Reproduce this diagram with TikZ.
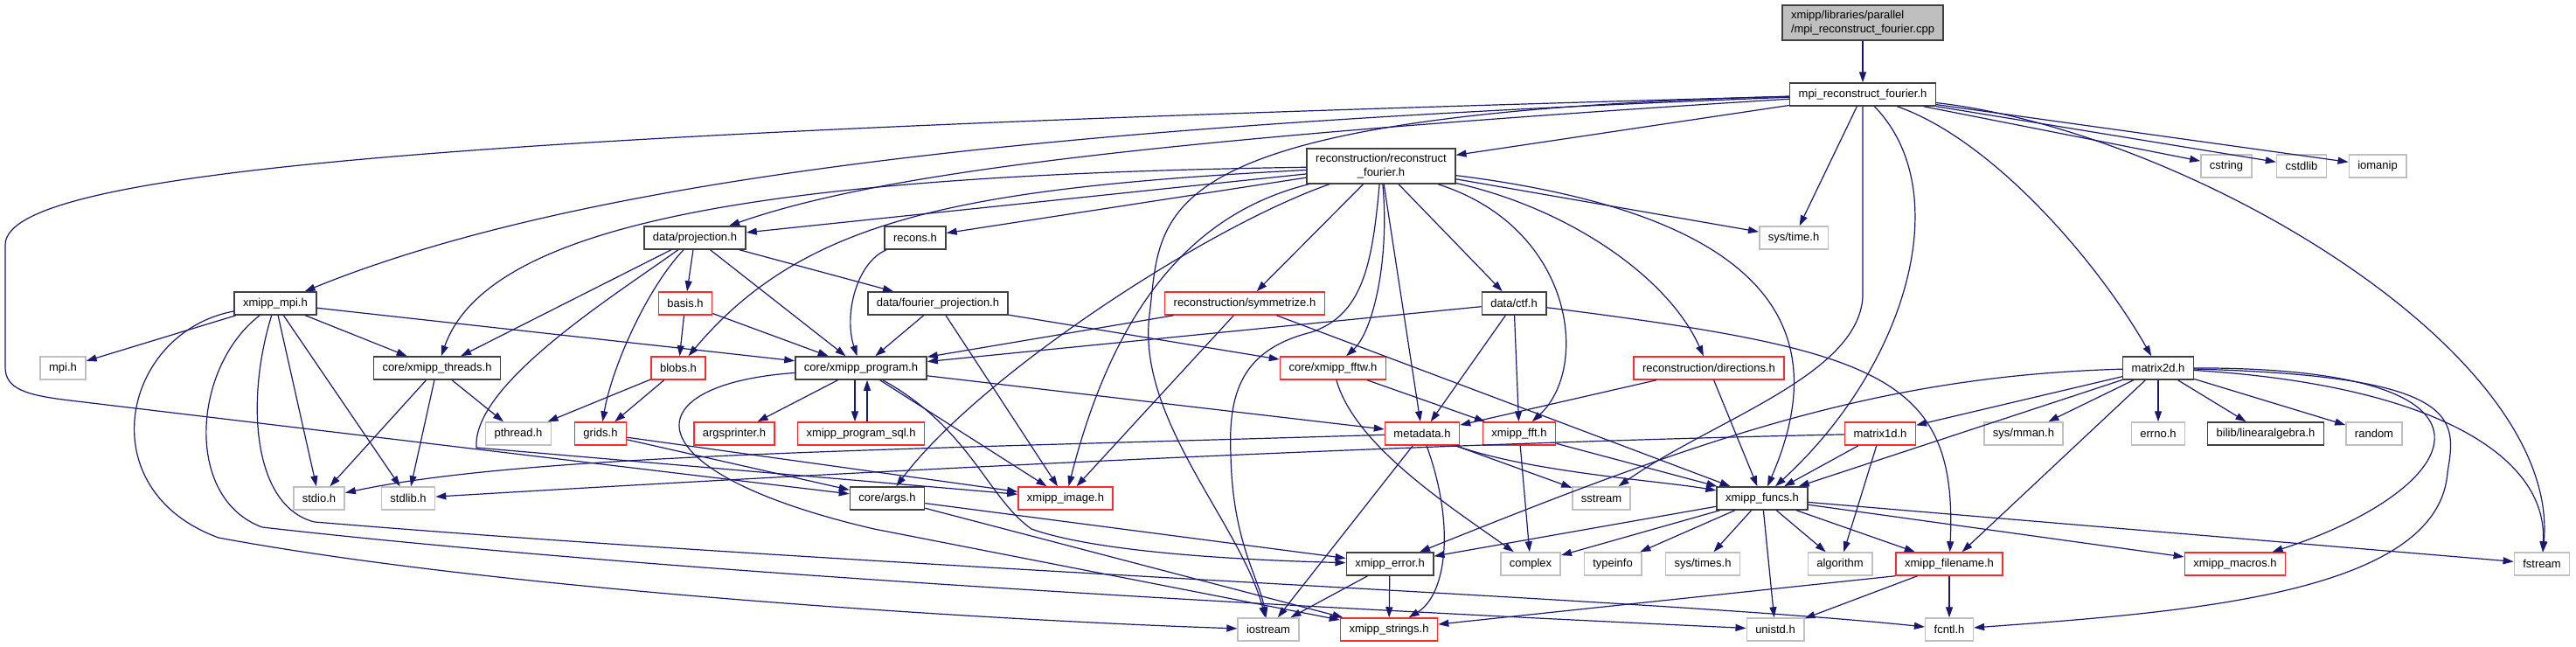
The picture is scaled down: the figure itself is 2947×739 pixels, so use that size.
\documentclass[tikz,border=0pt]{standalone}
\usepackage{fontspec}
\setmainfont{Liberation Sans}
\usetikzlibrary{arrows.meta}
\definecolor{edgeblue}{HTML}{191970}
\definecolor{boxred}{HTML}{FF2A2A}
\definecolor{boxgray}{HTML}{BFBFBF}
\definecolor{boxblack}{HTML}{404040}
\definecolor{rootfill}{HTML}{BFBFBF}

\begin{document}
\begin{tikzpicture}[x=1pt, y=-1pt,
  font=\fontsize{13}{15.5}\selectfont,
  hdr/.style={rectangle, draw, line width=1.5pt, inner xsep=10pt, inner ysep=3pt, minimum height=26pt},
  docbox/.style={hdr, draw=boxblack},
  redbox/.style={hdr, draw=boxred},
  sysbox/.style={hdr, draw=boxgray},
  inc/.style={draw=edgeblue, line width=1.2pt, -{Triangle[length=12pt,width=8pt]}}]
  \useasboundingbox (0,0) rectangle (2947,739);

  \node[hdr, draw=boxblack, fill=rootfill, align=left, minimum height=40pt] (root) at (2131,26) {xmipp/libraries/parallel\\/mpi\_reconstruct\_fourier.cpp};
  \node[docbox] (mrf) at (2131,108) {mpi\_reconstruct\_fourier.h};
  \node[sysbox] (cstring) at (2547,190) {cstring};
  \node[sysbox] (cstdlib) at (2633,190) {cstdlib};
  \node[sysbox] (iomanip) at (2720,190) {iomanip};
  \node[docbox, align=center, minimum height=40pt] (rf) at (1580,190) {reconstruction/reconstruct\\\_fourier.h};
  \node[sysbox] (systime) at (2052,272) {sys/time.h};
  \node[docbox] (recons) at (1047,272) {recons.h};
  \node[docbox] (proj) at (795,272) {data/projection.h};
  \node[docbox] (xmpi) at (315,347) {xmipp\_mpi.h};
  \node[redbox] (basis) at (784,347) {basis.h};
  \node[docbox] (fproj) at (1073,347) {data/fourier\_projection.h};
  \node[redbox] (symm) at (1424,347) {reconstruction/symmetrize.h};
  \node[docbox] (ctf) at (1732,347) {data/ctf.h};
  \node[sysbox] (mpi) at (72,421) {mpi.h};
  \node[docbox] (threads) at (500,421) {core/xmipp\_threads.h};
  \node[redbox] (blobs) at (776,421) {blobs.h};
  \node[docbox] (prog) at (985,421) {core/xmipp\_program.h};
  \node[redbox] (fftw) at (1525,421) {core/xmipp\_fftw.h};
  \node[redbox] (dirs) at (1955,421) {reconstruction/directions.h};
  \node[docbox] (mtwo) at (2469,421) {matrix2d.h};
  \node[sysbox] (pthread) at (593,496) {pthread.h};
  \node[redbox] (grids) at (687,496) {grids.h};
  \node[redbox] (argsp) at (840,496) {argsprinter.h};
  \node[redbox] (sql) at (985,496) {xmipp\_program\_sql.h};
  \node[redbox] (meta) at (1627,496) {metadata.h};
  \node[redbox] (fft) at (1738,496) {xmipp\_fft.h};
  \node[redbox] (mone) at (2151,496) {matrix1d.h};
  \node[sysbox] (mman) at (2315,496) {sys/mman.h};
  \node[sysbox] (errno) at (2469,496) {errno.h};
  \node[docbox] (bilib) at (2592,496) {bilib/linearalgebra.h};
  \node[sysbox] (random) at (2716,496) {random};
  \node[sysbox] (stdio) at (365,570) {stdio.h};
  \node[sysbox] (stdlib) at (467,570) {stdlib.h};
  \node[docbox] (args) at (1015,570) {core/args.h};
  \node[redbox] (image) at (1219,570) {xmipp\_image.h};
  \node[sysbox] (sstream) at (1832,570) {sstream};
  \node[docbox] (funcs) at (2016,570) {xmipp\_funcs.h};
  \node[docbox] (error) at (1590,645) {xmipp\_error.h};
  \node[sysbox] (complex) at (1751,645) {complex};
  \node[sysbox] (typeinfo) at (1845,645) {typeinfo};
  \node[sysbox] (systimes) at (1948,645) {sys/times.h};
  \node[sysbox] (algorithm) at (2105,645) {algorithm};
  \node[redbox] (fname) at (2230,645) {xmipp\_filename.h};
  \node[redbox] (macros) at (2557,645) {xmipp\_macros.h};
  \node[sysbox] (fstream) at (2908,645) {fstream};
  \node[sysbox] (iostream) at (1451,720) {iostream};
  \node[redbox] (strings) at (1589,720) {xmipp\_strings.h};
  \node[sysbox] (unistd) at (2031,720) {unistd.h};
  \node[sysbox] (fcntl) at (2230,720) {fcntl.h};

  % straight includes
  \foreach \a/\b in {root/mrf, mrf/rf, mrf/systime, mrf/cstring, mrf/cstdlib, mrf/iomanip,
    rf/proj, rf/recons, rf/symm, rf/meta, rf/ctf, rf/systime,
    proj/basis, proj/prog, proj/fproj, proj/threads,
    basis/blobs, basis/prog, blobs/pthread, blobs/grids, grids/args, grids/image,
    fproj/prog, fproj/image, fproj/fftw, symm/prog, symm/funcs, symm/image,
    ctf/prog, ctf/meta, ctf/fft, xmpi/mpi, xmpi/threads, xmpi/prog, xmpi/stdio, xmpi/stdlib,
    threads/stdio, threads/stdlib, threads/pthread, prog/argsp, prog/meta, prog/image,
    meta/iostream, meta/sstream, fft/complex, fft/funcs, fftw/fft, dirs/meta, dirs/funcs,
    mone/funcs, mone/algorithm, mtwo/mone, mtwo/mman, mtwo/errno, mtwo/bilib, mtwo/random,
    mtwo/fname, mtwo/funcs, args/error, args/strings, error/iostream, error/strings,
    funcs/error, funcs/complex, funcs/typeinfo, funcs/systimes, funcs/algorithm,
    funcs/fname, funcs/macros, funcs/fstream, funcs/unistd, fname/unistd, fname/fcntl}
    \draw[inc] (\a) -- (\b);

  \draw[inc] ([xshift=-7pt]prog.south) -- ([xshift=-7pt]sql.north);
  \draw[inc] ([xshift=7pt]sql.north) -- ([xshift=7pt]prog.south);
  \draw[inc] (fname.south west) -- (strings);

  % curved includes
  \draw[inc] (mrf) .. controls (1300,140) and (700,190) .. (xmpi);
  \draw[inc] (mrf) .. controls (1300,160) and (1000,200) .. (proj);
  \draw[inc] (mrf) .. controls (600,150) and (6,190) .. (6,280) -- (6,420) .. controls (6,445) and (30,452) .. (80,458) -- (args);
  \draw[inc] (mrf) .. controls (1300,130) and (1330,240) .. (1315,360) .. controls (1300,480) and (1420,600) .. (iostream);
  \draw[inc] (mrf) .. controls (2500,150) and (2930,400) .. (fstream);
  \draw[inc] (mrf) .. controls (2280,160) and (2400,300) .. (mtwo);
  \draw[inc] (mrf) .. controls (2240,220) and (2180,420) .. (funcs);
  \draw[inc] (mrf.south) -- (2131,340) .. controls (2125,430) and (1960,480) .. (sstream);

  \draw[inc] (rf) .. controls (900,200) and (560,250) .. (threads);
  \draw[inc] (rf) .. controls (1100,215) and (920,250) .. (blobs);
  \draw[inc] (rf) .. controls (1380,260) and (1120,430) .. (args);
  \draw[inc] (rf) .. controls (1380,240) and (1280,330) .. (image);
  \draw[inc] (rf) .. controls (1570,300) and (1560,360) .. (1500,380) .. controls (1420,400) and (1405,450) .. (1408,520) .. controls (1410,620) and (1440,660) .. (iostream);
  \draw[inc] (rf) .. controls (1590,300) and (1570,380) .. (fftw);
  \draw[inc] (rf) .. controls (1800,260) and (1820,420) .. (fft);
  \draw[inc] (rf) .. controls (1800,240) and (1910,320) .. (dirs);
  \draw[inc] (rf) .. controls (2060,250) and (2090,400) .. (funcs);

  \draw[inc] (proj) .. controls (740,330) and (700,420) .. (grids);
  \draw[inc] (proj) .. controls (700,340) and (540,440) .. (545,512) -- (image);
  \draw[inc] (recons) .. controls (980,300) and (965,360) .. (prog);
  \draw[inc] (ctf) .. controls (2150,400) and (2240,430) .. (fname);
  \draw[inc] (prog) .. controls (720,440) and (720,540) .. (1000,605) -- (strings);
  \draw[inc] (prog) .. controls (1110,490) and (1130,570) .. (1180,605) .. controls (1250,630) and (1400,640) .. (error);
  \draw[inc] (meta) .. controls (1000,515) and (600,520) .. (stdio);
  \draw[inc] (meta) .. controls (1665,600) and (1655,680) .. (strings);
  \draw[inc] (meta) .. controls (1750,540) and (1900,550) .. (funcs);
  \draw[inc] (fftw) .. controls (1550,510) and (1660,580) .. (complex);
  \draw[inc] (mone) .. controls (1500,510) and (800,550) .. (stdlib);

  \draw[inc] (mtwo) .. controls (2150,430) and (1950,500) .. (error);
  \draw[inc] (mtwo) .. controls (2780,440) and (2915,520) .. (fstream);
  \draw[inc] (mtwo) .. controls (2900,420) and (2820,560) .. (macros);
  \draw[inc] (mtwo) .. controls (2820,430) and (2810,480) .. (2800,540) .. controls (2790,680) and (2500,700) .. (fcntl);

  \draw[inc] (xmpi) .. controls (140,380) and (100,560) .. (250,615) .. controls (600,680) and (1200,712) .. (iostream);
  \draw[inc] (xmpi) .. controls (220,420) and (210,570) .. (300,603) .. controls (800,660) and (1600,700) .. (unistd);
  \draw[inc] (xmpi) .. controls (280,460) and (290,580) .. (360,597) .. controls (1000,650) and (1900,685) .. (fcntl);
\end{tikzpicture}
\end{document}
